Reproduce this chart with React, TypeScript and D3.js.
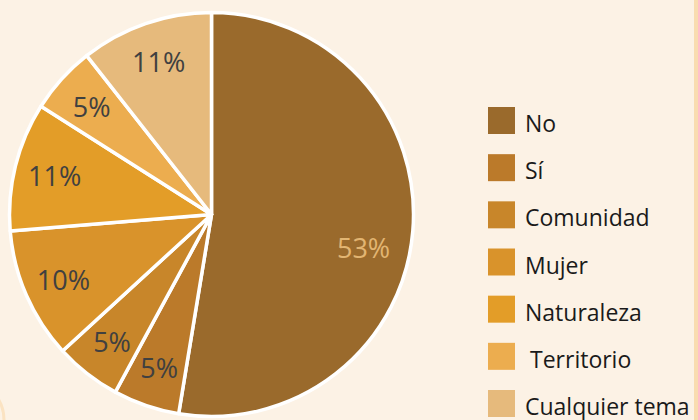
import React from "react";
import * as d3 from "d3";

const categories = ["No", "Sí", "Comunidad", "Mujer", "Naturaleza", "Territorio", "Cualquier tema"];
const values = [52.6, 5.3, 5.3, 10.5, 10.3, 5.4, 10.6];
const labels = ["53%", "5%", "5%", "10%", "11%", "5%", "11%"];
const colors = ["#9a6a2c", "#bb7a2a", "#c8862a", "#d9932b", "#e39d28", "#ecad4f", "#e6ba7c"];

const W = 698;
const H = 420;
const cx = 211.5;
const cy = 214.5;
const R = 202;

export default function App() {
  const pie = d3.pie<number>().sort(null).value((d) => d)(values);
  const arc = d3.arc<d3.PieArcDatum<number>>().innerRadius(0).outerRadius(R);
  const labelArc = d3.arc<d3.PieArcDatum<number>>().innerRadius(0.8 * R).outerRadius(0.8 * R);
  const legendY = d3.scaleLinear().domain([0, categories.length - 1]).range([107, 390]);

  return (
    <svg width={W} height={H} style={{ position: "fixed", left: 0, top: 0, display: "block" }}>
      <rect x={0} y={0} width={W} height={H} fill="#fcf2e5" />
      <rect x={694} y={0} width={4} height={H} fill="#f9dcb0" />
      <ellipse cx={-40} cy={420} rx={44} ry={42} fill="none" stroke="#fbe3c2" strokeWidth={3} />
      <g transform={`translate(${cx},${cy})`}>
        {pie.map((p, i) => (
          <path key={i} d={arc(p) as string} fill={colors[i]} stroke="#ffffff" strokeWidth={3.5} strokeLinejoin="round" />
        ))}
        {pie.map((p, i) => {
          const [x, y] = labelArc.centroid(p);
          const big = i === 0;
          return (
            <text
              key={"l" + i}
              x={big ? x - 9 : x}
              y={big ? y + 20 : y}
              textAnchor="middle"
              dominantBaseline="central"
              fontFamily="'Open Sans', sans-serif"
              fontSize={27}
              fill={big ? "#e2b572" : "#404040"}
            >
              {labels[i]}
            </text>
          );
        })}
      </g>
      {categories.map((c, i) => (
        <g key={"lg" + i} transform={`translate(488,${legendY(i)})`}>
          <rect x={0} y={0} width={27} height={27} fill={colors[i]} />
          <text
            x={i === 5 ? 42 : 37}
            y={25}
            fontFamily="'Open Sans', sans-serif"
            fontSize={23}
            fill="#1a1a1a"
          >
            {c}
          </text>
        </g>
      ))}
    </svg>
  );
}
